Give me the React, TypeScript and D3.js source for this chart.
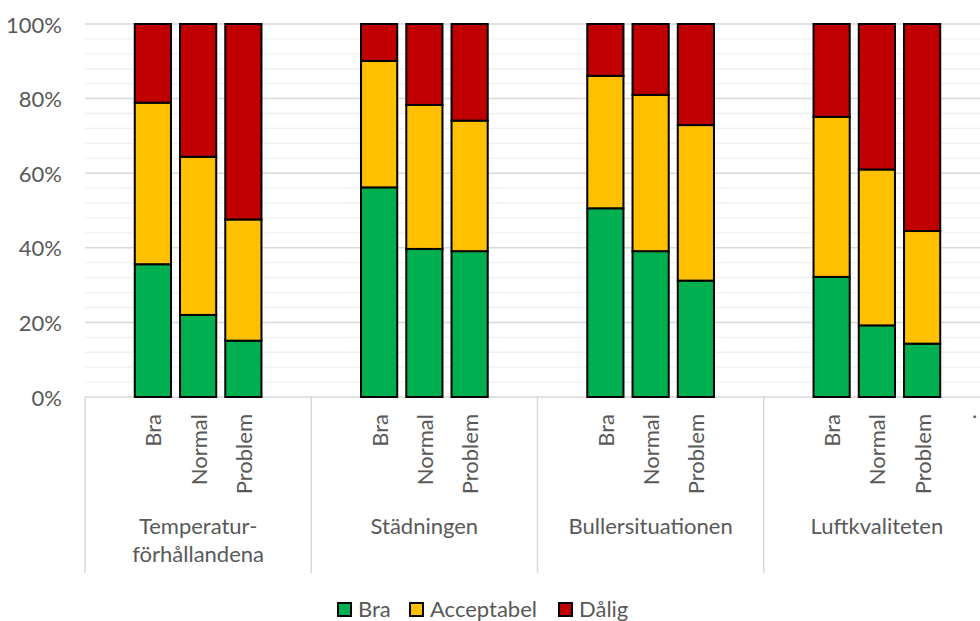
import React from "react";
import * as d3 from "d3";

const groupLabels: string[][] = [
  ["Temperatur-", "förhållandena"],
  ["Städningen"],
  ["Bullersituationen"],
  ["Luftkvaliteten"],
];
const subCategories = ["Bra", "Normal", "Problem"];
const trailingLabel = ".";
const seriesNames = ["Bra", "Acceptabel", "Dålig"];
const seriesColors = ["#00B050", "#FFC000", "#C00000"];
const braValues = [35.6, 22.0, 15.1, 56.2, 39.7, 39.1, 50.6, 39.1, 31.2, 32.2, 19.2, 14.3];
const acceptabelValues = [43.3, 42.4, 32.5, 33.9, 38.6, 35.0, 35.5, 41.9, 41.7, 42.9, 41.8, 30.2];
const daligValues = [21.1, 35.6, 52.4, 9.9, 21.7, 25.9, 13.9, 19.0, 27.1, 24.9, 39.0, 55.5];
const yTicks = [0, 20, 40, 60, 80, 100];

const W = 980;
const H = 621;
const FONT = "Lato, 'Open Sans', sans-serif";
const TXT = "#595959";

export default function App() {
  const plotLeft = 85;
  const plotRight = 990;
  const y0 = 397;
  const y1 = 24;

  // slots: per group ["", Bra, Normal, Problem, ""]
  const slots: { id: string; label: string; group: number; sub: number }[] = [];
  groupLabels.forEach((_, g) => {
    const labels = ["", ...subCategories, ""];
    labels.forEach((l, i) => {
      let label = l;
      if (g === groupLabels.length - 1 && i === labels.length - 1) label = trailingLabel;
      slots.push({ id: `${g}-${i}`, label, group: g, sub: i - 1 });
    });
  });

  const x = d3
    .scaleBand<string>()
    .domain(slots.map((s) => s.id))
    .range([plotLeft, plotRight])
    .paddingInner(0.2)
    .paddingOuter(0.1);
  const step = x.step();
  const y = d3.scaleLinear().domain([0, 100]).range([y0, y1]);

  const rows = braValues.map((_, i) => ({
    key: `${Math.floor(i / 3)}-${(i % 3) + 1}`,
    Bra: braValues[i],
    Acceptabel: acceptabelValues[i],
    "Dålig": daligValues[i],
  }));
  const stacked = d3.stack<any>().keys(seriesNames)(rows);

  const minorTicks = d3.range(0, 101, 4).filter((v) => v % 20 !== 0);
  const groupWidth = step * 5;

  return (
    <svg
      width={W}
      height={H}
      style={{ position: "absolute", left: 0, top: 0, display: "block", background: "#fff" }}
      fontFamily={FONT}
    >
      {minorTicks.map((t) => (
        <line key={"m" + t} x1={plotLeft} x2={W} y1={y(t)} y2={y(t)} stroke="#f0f0f0" strokeWidth={1.3} />
      ))}
      {yTicks.map((t) => (
        <line key={"g" + t} x1={plotLeft} x2={W} y1={y(t)} y2={y(t)} stroke="#d9d9d9" strokeWidth={1.5} />
      ))}
      {yTicks.map((t) => (
        <text key={"yl" + t} x={62} y={y(t)} textAnchor="end" dominantBaseline="central" fontSize={22} fill={TXT}>
          {t}%
        </text>
      ))}
      {/* category axis separators */}
      {d3.range(groupLabels.length + 1).map((g) => (
        <line
          key={"sep" + g}
          x1={plotLeft + g * groupWidth}
          x2={plotLeft + g * groupWidth}
          y1={y0}
          y2={573}
          stroke="#d9d9d9"
          strokeWidth={1.5}
        />
      ))}
      {/* bars */}
      {stacked.map((s, si) =>
        s.map((d: any, i: number) => (
          <rect
            key={`${si}-${i}`}
            x={x(rows[i].key)!}
            width={x.bandwidth()}
            y={y(d[1])}
            height={y(d[0]) - y(d[1])}
            fill={seriesColors[si]}
            stroke="#000"
            strokeWidth={2}
          />
        ))
      )}
      {/* rotated sub labels */}
      {slots
        .filter((s) => s.label)
        .map((s) => {
          const cx = x(s.id)! + x.bandwidth() / 2;
          return (
            <text
              key={"sl" + s.id}
              transform={`translate(${cx},${414}) rotate(-90)`}
              textAnchor="end"
              dominantBaseline="central"
              fontSize={22}
              fill={TXT}
            >
              {s.label}
            </text>
          );
        })}
      {/* group labels */}
      {groupLabels.map((lines, g) => (
        <text
          key={"gl" + g}
          x={plotLeft + g * groupWidth + groupWidth / 2}
          y={534}
          textAnchor="middle"
          fontSize={22}
          fill={TXT}
        >
          {lines.map((l, li) => (
            <tspan key={li} x={plotLeft + g * groupWidth + groupWidth / 2} dy={li === 0 ? 0 : 28}>
              {l}
            </tspan>
          ))}
        </text>
      ))}
      {/* legend */}
      {(() => {
        const items = [
          { x: 338, tx: 358 },
          { x: 410, tx: 430 },
          { x: 559, tx: 579 },
        ];
        return seriesNames.map((n, i) => (
          <g key={"lg" + n}>
            <rect x={items[i].x} y={603} width={13} height={13} fill={seriesColors[i]} stroke="#000" strokeWidth={2} />
            <text x={items[i].tx} y={617} fontSize={22} fill={TXT}>
              {n}
            </text>
          </g>
        ));
      })()}
    </svg>
  );
}
